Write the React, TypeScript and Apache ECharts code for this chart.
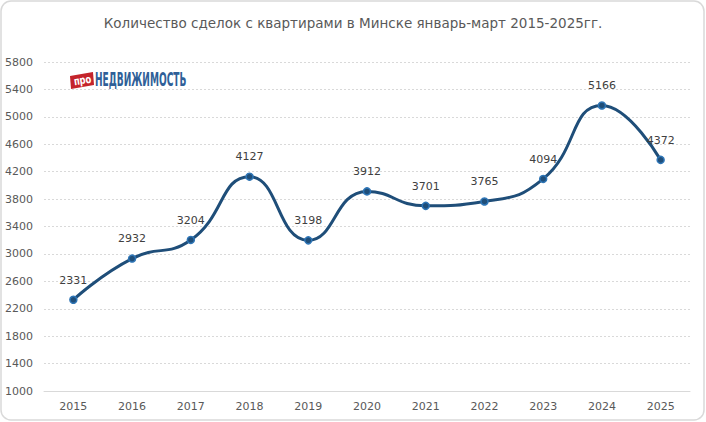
import React, { useEffect, useRef } from "react";
import * as echarts from "echarts";

const years = ["2015", "2016", "2017", "2018", "2019", "2020", "2021", "2022", "2023", "2024", "2025"];
const deals = [2331, 2932, 3204, 4127, 3198, 3912, 3701, 3765, 4094, 5166, 4372];
const title = "Количество сделок с квартирами в Минске январь-март 2015-2025гг.";
const logoPrefix = "про";
const logoText = "НЕДВИЖИМОСТЬ";

export default function App() {
  const ref = useRef<HTMLDivElement>(null);
  useEffect(() => {
    document.body.style.margin = "0";
    const chart = echarts.init(ref.current!, null, { renderer: "svg" });
    chart.setOption({
      animation: false,
      backgroundColor: "#ffffff",
      title: {
        text: title,
        left: "center",
        top: 11,
        textStyle: { fontFamily: "DejaVu Sans", fontSize: 13.5, fontWeight: "normal", color: "#595959" },
      },
      grid: { left: 44, right: 16, top: 62, bottom: 31 },
      xAxis: {
        type: "category",
        data: years,
        boundaryGap: true,
        axisLine: { lineStyle: { color: "#d9d9d9", width: 1 } },
        axisTick: { show: false },
        axisLabel: { color: "#595959", fontSize: 11, fontFamily: "DejaVu Sans", margin: 10 },
      },
      yAxis: {
        type: "value",
        min: 1000,
        max: 5800,
        interval: 400,
        axisLine: { show: false },
        axisTick: { show: false },
        axisLabel: {
          color: "#595959",
          fontSize: 11,
          fontFamily: "DejaVu Sans",
          margin: 11,
          formatter: (v: number) => String(v),
        },
        splitLine: { lineStyle: { color: "#d9d9d9", type: [2, 2], width: 1 } },
      },
      series: [
        {
          type: "line",
          data: deals,
          smooth: 0.5,
          symbol: "circle",
          symbolSize: 7,
          lineStyle: { color: "#1f4e79", width: 3 },
          itemStyle: { color: "#1f4e79", borderColor: "#2e75b6", borderWidth: 1.5 },
          label: {
            show: true,
            position: "top",
            distance: 10,
            color: "#404040",
            fontSize: 11,
            fontFamily: "DejaVu Sans",
          },
        },
      ],
      graphic: [
        {
          type: "rect",
          shape: { x: 1, y: 1, width: 703, height: 419, r: 10 },
          style: { fill: "none", stroke: "#d9d9d9", lineWidth: 1.5 },
          silent: true,
        },
        {
          type: "group",
          x: 70,
          y: 72,
          children: [
            {
              type: "polygon",
              shape: { points: [[0, 4], [23, 0], [24, 13], [1, 17]] },
              style: { fill: "#c4242b" },
            },
            {
              type: "text",
              x: 3,
              y: 4,
              rotation: 0.15,
              scaleX: 0.85,
              style: { text: logoPrefix, fill: "#ffffff", font: "bold 11px 'DejaVu Sans Condensed'" },
            },
            {
              type: "text",
              x: 25,
              y: -2,
              scaleX: 0.53,
              style: { text: logoText, fill: "#2f5f98", font: "bold 19px 'DejaVu Sans Condensed'" },
            },
          ],
        },
      ],
    });
    return () => chart.dispose();
  }, []);
  return <div ref={ref} style={{ position: "fixed", left: 0, top: 0, width: 706, height: 422 }} />;
}
